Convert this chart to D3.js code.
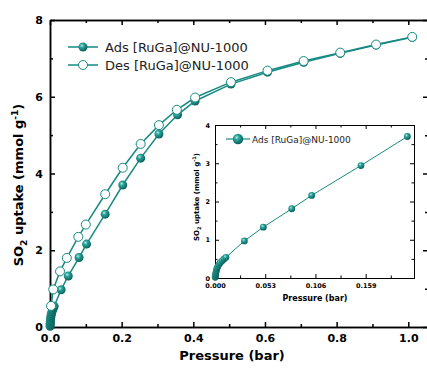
<!DOCTYPE html>
<html>
<head>
<meta charset="utf-8">
<script src="https://cdn.jsdelivr.net/npm/d3@7"></script>
<style>
  body { margin: 0; background: #fff; }
  svg { display: block; font-family: "DejaVu Sans", Verdana, sans-serif; }
</style>
</head>
<body>
<svg id="chart" width="427" height="371"></svg>
<script>
// adsorption branch (bar, mmol/g)
var adsP = [0.0002,0.0004,0.0007,0.001,0.0015,0.002,0.003,0.004,0.0055,0.0075,0.0095,0.0115,
            0.031,0.051,0.081,0.102,0.154,0.203,0.253,0.304,0.356,0.405,0.505,0.607,0.708,0.81,0.91,1.011];
var adsQ = [0.02,0.06,0.1,0.15,0.2,0.25,0.3,0.35,0.4,0.45,0.5,0.54,
            0.97,1.33,1.81,2.16,2.94,3.70,4.40,5.03,5.53,5.89,6.33,6.64,6.90,7.13,7.35,7.55];
// desorption branch
var desP = [0.003,0.009,0.028,0.047,0.079,0.1,0.154,0.203,0.253,0.304,0.354,0.405,0.505,0.607,0.708,0.81,0.91,1.011];
var desQ = [0.55,0.98,1.45,1.8,2.35,2.67,3.46,4.15,4.77,5.26,5.66,5.98,6.38,6.68,6.93,7.15,7.36,7.56];

var xTicks = [0,0.2,0.4,0.6,0.8,1.0];
var xMinor = [0.1,0.3,0.5,0.7,0.9];
var yTicks = [0,2,4,6,8];
var yMinor = [1,3,5,7];
var inXTicks = [0,0.053,0.106,0.159];
var inXLabels = ["0.000","0.053","0.106","0.159"];
var inXMinor = [0.0265,0.0795,0.1325,0.1855];
var inYTicks = [0,1,2,3,4];
var inYMinor = [0.5,1.5,2.5,3.5];

var teal = "#168a83";
var svg = d3.select("#chart");

var defs = svg.append("defs");
var grad = defs.append("radialGradient").attr("id","ball")
  .attr("cx","38%").attr("cy","35%").attr("r","65%");
grad.append("stop").attr("offset","0%").attr("stop-color","#b8ece6");
grad.append("stop").attr("offset","35%").attr("stop-color","#2aa39a");
grad.append("stop").attr("offset","100%").attr("stop-color","#0a625c");

var ads = adsP.map(function(p,i){ return {p:p, q:adsQ[i]}; });
var des = desP.map(function(p,i){ return {p:p, q:desQ[i]}; });

// ---- main plot ----
var x = d3.scaleLinear().domain([0,1.055]).range([50,428]);
var y = d3.scaleLinear().domain([0,8]).range([327,20]);

function drawAxes(g, xs, ys, xt, xm, yt, ym, xfmt, yfmt, big, small, xpad, ypad, fs, sw){
  var b = xs.range(), l = ys.range();
  g.append("g").attr("transform","translate(0,"+l[0]+")")
    .call(d3.axisBottom(xs).tickValues(xt).tickFormat(xfmt).tickSize(-big).tickSizeOuter(0).tickPadding(xpad));
  g.append("g").attr("transform","translate(0,"+l[0]+")")
    .call(d3.axisBottom(xs).tickValues(xm).tickFormat("").tickSize(-small).tickSizeOuter(0));
  g.append("g").attr("transform","translate(0,"+l[1]+")")
    .call(d3.axisTop(xs).tickValues(xt).tickFormat("").tickSize(-big).tickSizeOuter(0));
  g.append("g").attr("transform","translate(0,"+l[1]+")")
    .call(d3.axisTop(xs).tickValues(xm).tickFormat("").tickSize(-small).tickSizeOuter(0));
  g.append("g").attr("transform","translate("+b[0]+",0)")
    .call(d3.axisLeft(ys).tickValues(yt).tickFormat(yfmt).tickSize(-big).tickSizeOuter(0).tickPadding(ypad));
  g.append("g").attr("transform","translate("+b[0]+",0)")
    .call(d3.axisLeft(ys).tickValues(ym).tickFormat("").tickSize(-small).tickSizeOuter(0));
  g.append("g").attr("transform","translate("+b[1]+",0)")
    .call(d3.axisRight(ys).tickValues(yt).tickFormat("").tickSize(-big).tickSizeOuter(0));
  g.append("g").attr("transform","translate("+b[1]+",0)")
    .call(d3.axisRight(ys).tickValues(ym).tickFormat("").tickSize(-small).tickSizeOuter(0));
  g.selectAll("path.domain").attr("stroke","#000").attr("stroke-width",sw);
  g.selectAll(".tick line").attr("stroke","#000").attr("stroke-width",sw);
  g.selectAll(".tick text").attr("font-family","DejaVu Sans").attr("font-weight","bold")
    .attr("font-size",fs).attr("fill","#000");
}

var main = svg.append("g");
drawAxes(main, x, y, xTicks, xMinor, yTicks, yMinor, d3.format(".1f"), d3.format("d"), 5, 3, 7, 7, 11, 1.5);

var line = d3.line().x(function(d){ return x(d.p); }).y(function(d){ return y(d.q); });
main.append("path").datum(ads).attr("d",line).attr("fill","none").attr("stroke",teal).attr("stroke-width",1.5);
main.append("path").datum(des).attr("d",line).attr("fill","none").attr("stroke",teal).attr("stroke-width",1.5);
main.selectAll("circle.ads").data(ads).enter().append("circle").attr("class","ads")
  .attr("cx",function(d){ return x(d.p); }).attr("cy",function(d){ return y(d.q); })
  .attr("r",4.5).attr("fill","url(#ball)");
main.selectAll("circle.des").data(des).enter().append("circle").attr("class","des")
  .attr("cx",function(d){ return x(d.p); }).attr("cy",function(d){ return y(d.q); })
  .attr("r",4.5).attr("fill","#fff").attr("stroke",teal).attr("stroke-width",1);

// legend
var leg = [{name:"Ads [RuGa]@NU-1000", filled:true},{name:"Des [RuGa]@NU-1000", filled:false}];
leg.forEach(function(l,i){
  var ly = 47 + i*18;
  main.append("line").attr("x1",68).attr("x2",98).attr("y1",ly).attr("y2",ly)
    .attr("stroke",teal).attr("stroke-width",1.5);
  main.append("circle").attr("cx",83).attr("cy",ly).attr("r",4.5)
    .attr("fill",l.filled ? "url(#ball)" : "#fff").attr("stroke",l.filled ? "none" : teal);
  main.append("text").attr("x",105).attr("y",ly+4.5).attr("font-size",13).attr("fill","#222").text(l.name);
});

// axis titles
main.append("text").attr("x",232).attr("y",360).attr("text-anchor","middle")
  .attr("font-weight","bold").attr("font-size",13).text("Pressure (bar)");
var yl = main.append("text").attr("transform","translate(23,185) rotate(-90)").attr("text-anchor","middle")
  .attr("font-weight","bold").attr("font-size",13);
yl.append("tspan").text("SO");
yl.append("tspan").attr("font-size",9).attr("dy",4).text("2");
yl.append("tspan").attr("dy",-4).text(" uptake (mmol g");
yl.append("tspan").attr("font-size",9).attr("dy",-5).text("-1");
yl.append("tspan").attr("dy",5).text(")");

// ---- inset ----
var ix = d3.scaleLinear().domain([0,0.21]).range([215,414]);
var iy = d3.scaleLinear().domain([0,4]).range([278,125]);
var inset = svg.append("g");
inset.append("rect").attr("x",215).attr("y",125).attr("width",199).attr("height",153).attr("fill","#fff");
drawAxes(inset, ix, iy, inXTicks, inXMinor, inYTicks, inYMinor,
  function(d,i){ return inXLabels[i]; }, d3.format("d"), 4, 2.5, 5, 5, 6.5, 1);

var inAds = ads.filter(function(d){ return d.p <= 0.21; });
var iline = d3.line().x(function(d){ return ix(d.p); }).y(function(d){ return iy(d.q); });
inset.append("path").datum(inAds).attr("d",iline).attr("fill","none").attr("stroke",teal).attr("stroke-width",1);
inset.selectAll("circle.in").data(inAds).enter().append("circle").attr("class","in")
  .attr("cx",function(d){ return ix(d.p); }).attr("cy",function(d){ return iy(d.q); })
  .attr("r",3.4).attr("fill","url(#ball)");

inset.append("line").attr("x1",226).attr("x2",250).attr("y1",139).attr("y2",139)
  .attr("stroke",teal).attr("stroke-width",1.2);
inset.append("circle").attr("cx",238).attr("cy",139).attr("r",5.2).attr("fill","url(#ball)");
inset.append("text").attr("x",252).attr("y",142.5).attr("font-size",9).attr("fill","#222").text("Ads [RuGa]@NU-1000");

inset.append("text").attr("x",315).attr("y",301).attr("text-anchor","middle")
  .attr("font-weight","bold").attr("font-size",8).text("Pressure (bar)");
var iyl = inset.append("text").attr("transform","translate(199,197) rotate(-90)").attr("text-anchor","middle")
  .attr("font-weight","bold").attr("font-size",7);
iyl.append("tspan").text("SO");
iyl.append("tspan").attr("font-size",5).attr("dy",2).text("2");
iyl.append("tspan").attr("dy",-2).text(" uptake (mmol g");
iyl.append("tspan").attr("font-size",5).attr("dy",-3).text("-1");
iyl.append("tspan").attr("dy",3).text(")");
</script>
</body>
</html>
